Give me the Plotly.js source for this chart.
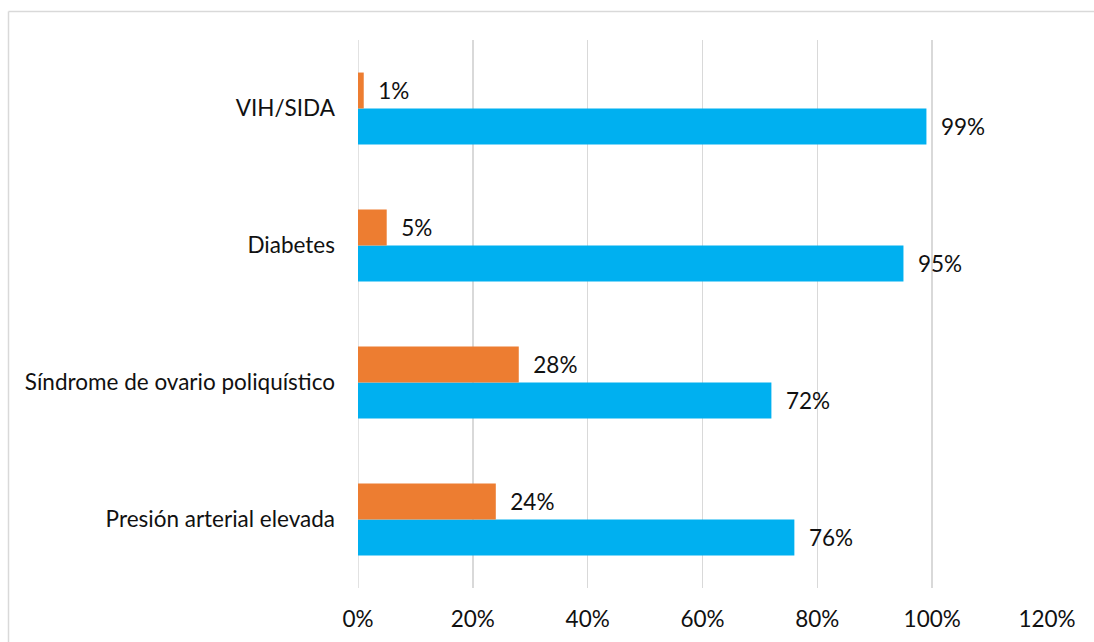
<!DOCTYPE html>
<html>
<head>
<meta charset="utf-8">
<script src="https://cdn.plot.ly/plotly-3.0.1.min.js"></script>
<style>
  html, body { margin: 0; padding: 0; background: #fff; }
  #chart { width: 1094px; height: 642px; }
</style>
</head>
<body>
<div id="chart"></div>
<script>
// Categories listed bottom-to-top
const categories = ['Presión arterial elevada', 'Síndrome de ovario poliquístico', 'Diabetes', 'VIH/SIDA'];
const blueValues = [0.76, 0.72, 0.95, 0.99];
const orangeValues = [0.24, 0.28, 0.05, 0.01];
const xTickVals = [0, 0.2, 0.4, 0.6, 0.8, 1.0, 1.2];
const xTickText = ['0%', '20%', '40%', '60%', '80%', '100%', '120%'];

const FONT = 'Lato, "Open Sans", sans-serif';
const TEXT_COLOR = '#111111';
const labelFont = { family: FONT, size: 22.5, color: TEXT_COLOR };

const pad = '\u00a0\u00a0';

const traces = [
  {
    type: 'bar', orientation: 'h', name: 'Serie azul',
    y: categories, x: blueValues,
    marker: { color: '#00B0F0' },
    text: blueValues.map(v => pad + Math.round(v * 100) + '%'),
    textposition: 'outside', textfont: labelFont,
    cliponaxis: false, hoverinfo: 'x+y'
  },
  {
    type: 'bar', orientation: 'h', name: 'Serie naranja',
    y: categories, x: orangeValues,
    marker: { color: '#ED7D31' },
    text: orangeValues.map(v => pad + Math.round(v * 100) + '%'),
    textposition: 'outside', textfont: labelFont,
    cliponaxis: false, hoverinfo: 'x+y'
  }
];

// Margins in px -> used to convert border line to paper coords
const mL = 358, mR = 47, mT = 40, mB = 54;
const W = 1094, H = 642;
const pw = W - mL - mR, ph = H - mT - mB;
const px2x = p => (p - mL) / pw;
const px2y = p => (H - mB - p) / ph;

const layout = {
  width: W, height: H,
  margin: { l: mL, r: mR, t: mT, b: mB, pad: 0 },
  paper_bgcolor: '#ffffff', plot_bgcolor: '#ffffff',
  font: labelFont,
  showlegend: false,
  barmode: 'group',
  bargap: 0.475,
  bargroupgap: 0,
  xaxis: {
    range: [0, 1.2],
    tickvals: xTickVals, ticktext: xTickText,
    showgrid: true, gridcolor: '#d9d9d9', gridwidth: 1.5,
    zeroline: false, showline: false,
    ticks: '', ticklabelstandoff: 15,
    tickfont: labelFont, fixedrange: true
  },
  yaxis: {
    type: 'category',
    showgrid: false, zeroline: false, showline: false,
    ticks: '', ticklabelstandoff: 22,
    tickfont: labelFont, fixedrange: true
  },
  shapes: [
    { type: 'line', xref: 'paper', yref: 'paper',
      x0: px2x(8.5), x1: px2x(W + 5), y0: px2y(11.5), y1: px2y(11.5),
      line: { color: '#d9d9d9', width: 1.5 } },
    { type: 'line', xref: 'paper', yref: 'paper',
      x0: px2x(8.5), x1: px2x(8.5), y0: px2y(11.5), y1: px2y(H + 5),
      line: { color: '#d9d9d9', width: 1.5 } },
    { type: 'line', xref: 'x', yref: 'paper', layer: 'below',
      x0: 0, x1: 0, y0: 0, y1: 1,
      line: { color: '#d9d9d9', width: 1.5 } }
  ]
};

Plotly.newPlot('chart', traces, layout, { displayModeBar: false, staticPlot: true });
</script>
</body>
</html>
